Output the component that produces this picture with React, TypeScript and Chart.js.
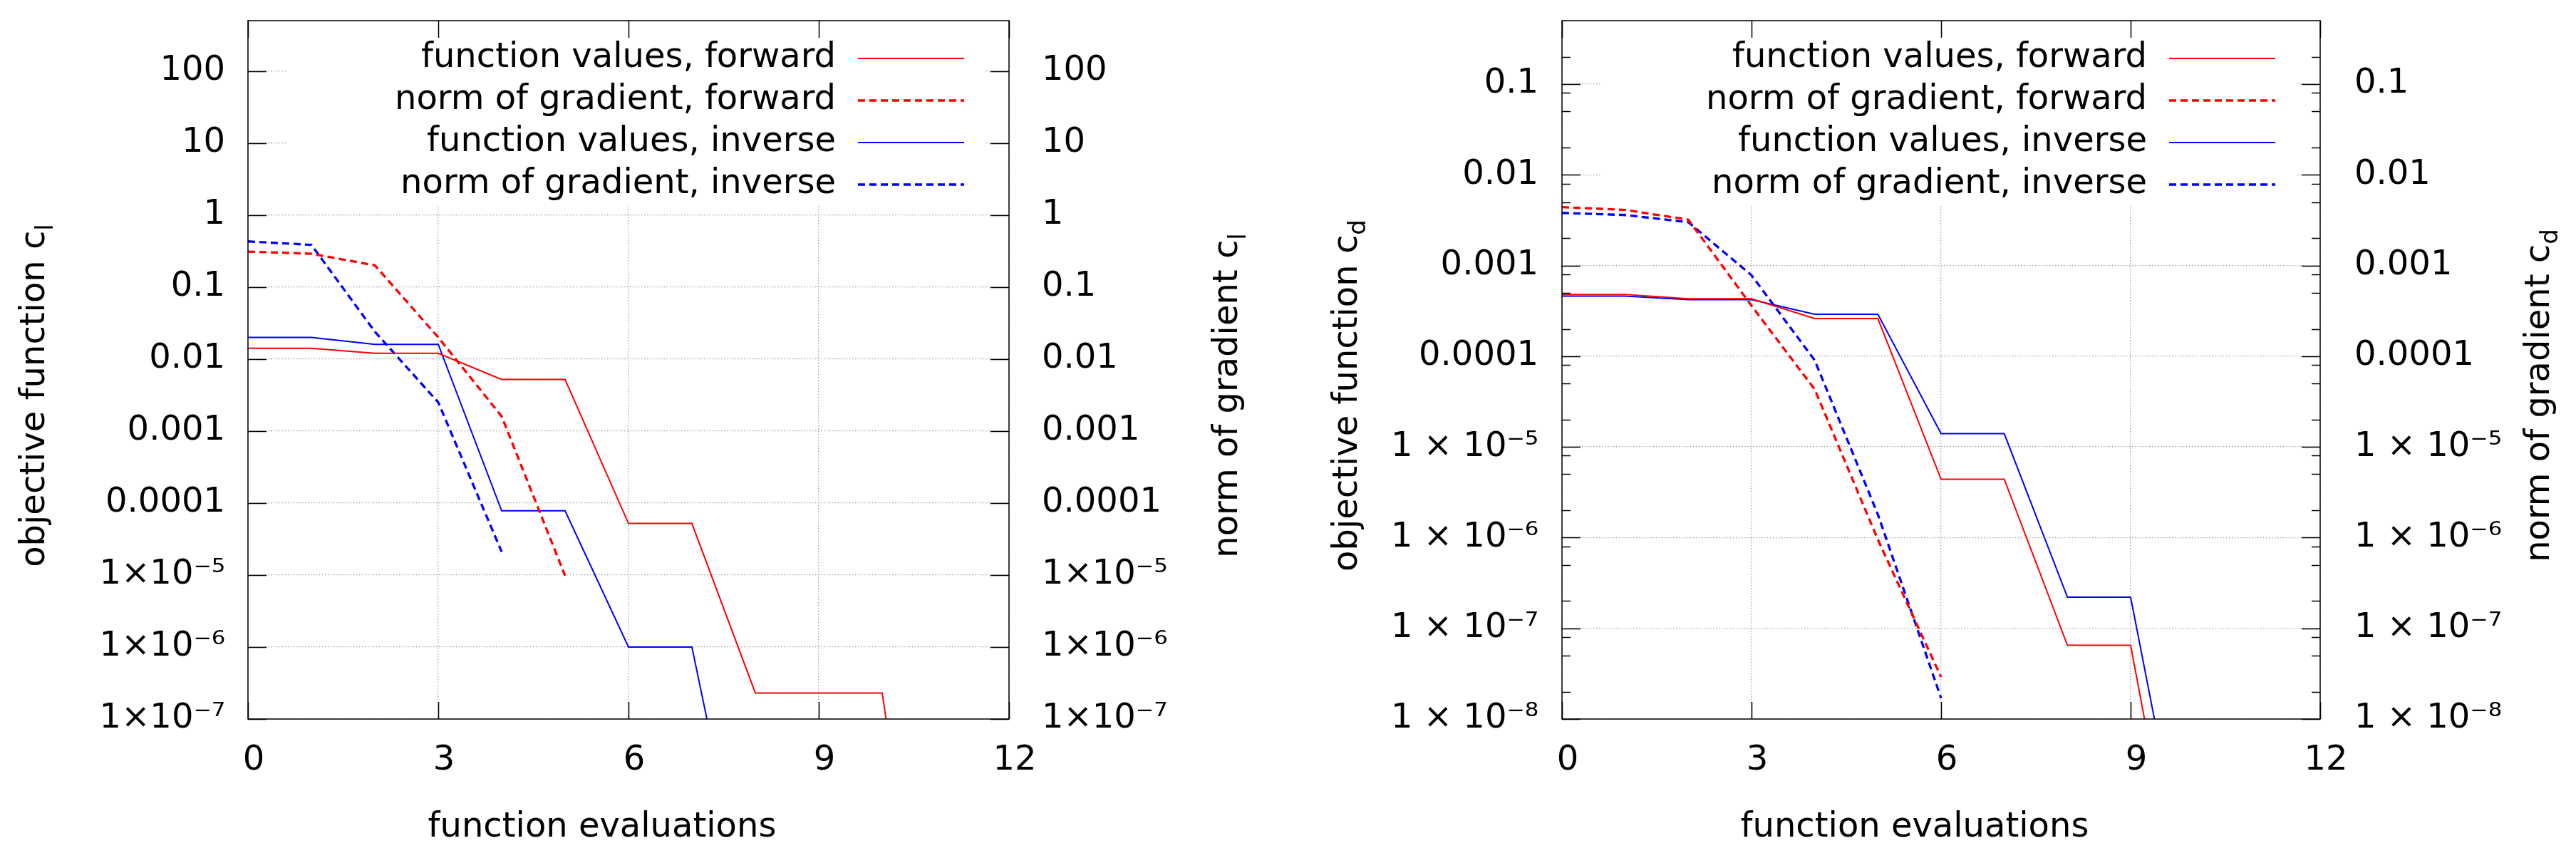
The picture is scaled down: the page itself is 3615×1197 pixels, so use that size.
import { useEffect, useRef } from "react";
import { Chart, registerables } from "chart.js";

Chart.register(...registerables);

const FONT = "'DejaVu Sans', sans-serif";
const HEIGHT = 1197;
const GRID = "#a0a0a0";

// function evaluations on the x axis
const evaluations = [0, 1, 2, 3, 4, 5, 6, 7, 8, 9, 10, 11];
const xTicks = [0, 3, 6, 9, 12];

const legendLabels = [
  "function values, forward",
  "norm of gradient, forward",
  "function values, inverse",
  "norm of gradient, inverse",
];

// left panel: c_l
const clValuesForward = [0.0141, 0.0141, 0.012, 0.012, 0.0052, 0.0052, 5.2e-5, 5.2e-5, 2.3e-7, 2.3e-7, 2.3e-7, 3e-13];
const clGradientForward = [0.31, 0.29, 0.2, 0.02, 0.0016, 9.8e-6];
const clValuesInverse = [0.0199, 0.0199, 0.016, 0.016, 7.8e-5, 7.8e-5, 1e-6, 1e-6, 6e-11];
const clGradientInverse = [0.43, 0.385, 0.024, 0.0025, 2.1e-5];
const clTickValues = [1e-7, 1e-6, 1e-5, 1e-4, 1e-3, 0.01, 0.1, 1, 10, 100];
const clTickLabels = ["1×10⁻⁷", "1×10⁻⁶", "1×10⁻⁵", "0.0001", "0.001", "0.01", "0.1", "1", "10", "100"];
const clMinorFactors: number[] = [];

// right panel: c_d
const cdValuesForward = [4.8e-4, 4.8e-4, 4.3e-4, 4.3e-4, 2.6e-4, 2.6e-4, 4.4e-6, 4.4e-6, 6.5e-8, 6.5e-8, 1.3e-11];
const cdGradientForward = [0.0044, 0.0041, 0.0032, 3.6e-4, 4.3e-5, 9.5e-7, 2.9e-8];
const cdValuesInverse = [4.6e-4, 4.6e-4, 4.2e-4, 4.2e-4, 2.9e-4, 2.9e-4, 1.4e-5, 1.4e-5, 2.2e-7, 2.2e-7, 6e-11];
const cdGradientInverse = [0.0038, 0.0036, 0.003, 7.8e-4, 9e-5, 1.8e-6, 1.7e-8];
const cdTickValues = [1e-8, 1e-7, 1e-6, 1e-5, 1e-4, 1e-3, 0.01, 0.1];
const cdTickLabels = ["1 × 10⁻⁸", "1 × 10⁻⁷", "1 × 10⁻⁶", "1 × 10⁻⁵", "0.0001", "0.001", "0.01", "0.1"];
const cdMinorFactors = [2, 5, 8];

type Panel = {
  sub: string;
  yMin: number;
  yMax: number;
  tickValues: number[];
  tickLabels: string[];
  minorFactors: number[];
  series: number[][];
  width: number;
  leftW: number;
  rightW: number;
  leftPad: number;
  rightPad: number;
  leftTitleX: number;
  rightTitleX: number;
};

const clPanel: Panel = {
  sub: "l",
  yMin: 1e-7,
  yMax: 500,
  tickValues: clTickValues,
  tickLabels: clTickLabels,
  minorFactors: clMinorFactors,
  series: [clValuesForward, clGradientForward, clValuesInverse, clGradientInverse],
  width: 1790,
  leftW: 348,
  rightW: 374,
  leftPad: 32,
  rightPad: 46,
  leftTitleX: 62,
  rightTitleX: 1736,
};

const cdPanel: Panel = {
  sub: "d",
  yMin: 1e-8,
  yMax: 0.5,
  tickValues: cdTickValues,
  tickLabels: cdTickLabels,
  minorFactors: cdMinorFactors,
  series: [cdValuesForward, cdGradientForward, cdValuesInverse, cdGradientInverse],
  width: 1825,
  leftW: 402,
  rightW: 359,
  leftPad: 33,
  rightPad: 48,
  leftTitleX: 114,
  rightTitleX: 1787,
};

const lineStyles = [
  { color: "#ff0000", width: 2, dash: [] as number[], axis: "y" },
  { color: "#ff0000", width: 3.3, dash: [10, 6], axis: "y2" },
  { color: "#0000ff", width: 2, dash: [] as number[], axis: "y" },
  { color: "#0000ff", width: 3.3, dash: [10, 6], axis: "y2" },
];

const toPoints = (values: number[]) => values.map((y, i) => ({ x: evaluations[i], y }));

function drawVertical(ctx: CanvasRenderingContext2D, text: string, sub: string, bx: number, cy: number) {
  ctx.save();
  ctx.translate(bx, cy);
  ctx.rotate(-Math.PI / 2);
  ctx.font = `48px ${FONT}`;
  const w1 = ctx.measureText(text).width;
  ctx.font = `34px ${FONT}`;
  const w2 = ctx.measureText(sub).width;
  const x0 = -(w1 + w2) / 2;
  ctx.textAlign = "left";
  ctx.textBaseline = "alphabetic";
  ctx.fillStyle = "#000";
  ctx.font = `48px ${FONT}`;
  ctx.fillText(text, x0, 0);
  ctx.font = `34px ${FONT}`;
  ctx.fillText(sub, x0 + w1, 12);
  ctx.restore();
}

function framePlugin(panel: Panel) {
  return {
    id: "gnuplotFrame",
    beforeDatasetsDraw(chart: any) {
      const { ctx, chartArea: a } = chart;
      // opaque key box hides the grid behind the legend
      ctx.save();
      ctx.fillStyle = "#ffffff";
      ctx.fillRect(a.left + 56, a.top + 1, a.right - a.left - 90, 259);
      ctx.restore();
    },
    afterDraw(chart: any) {
      const { ctx, chartArea: a } = chart;
      const xs = chart.scales.x;
      const ys = chart.scales.y;
      ctx.save();

      // legend
      ctx.font = `48px ${FONT}`;
      ctx.textAlign = "right";
      ctx.textBaseline = "middle";
      ctx.fillStyle = "#000";
      chart.data.datasets.forEach((ds: any, i: number) => {
        const y = a.top + 53 + i * 59;
        ctx.fillText(ds.label, a.right - 243, y);
        ctx.strokeStyle = ds.borderColor;
        ctx.lineWidth = ds.borderWidth;
        ctx.setLineDash(ds.borderDash || []);
        ctx.beginPath();
        ctx.moveTo(a.right - 212, y);
        ctx.lineTo(a.right - 63, y);
        ctx.stroke();
      });
      ctx.setLineDash([]);

      // inward tick marks on all four sides
      ctx.strokeStyle = "#000";
      ctx.lineWidth = 1.5;
      ctx.beginPath();
      xTicks.forEach((v) => {
        const px = Math.round(xs.getPixelForValue(v)) + 0.5;
        ctx.moveTo(px, a.bottom);
        ctx.lineTo(px, a.bottom - 24);
        ctx.moveTo(px, a.top);
        ctx.lineTo(px, a.top + 24);
      });
      panel.tickValues.forEach((v) => {
        const py = Math.round(ys.getPixelForValue(v)) + 0.5;
        ctx.moveTo(a.left, py);
        ctx.lineTo(a.left + 26, py);
        ctx.moveTo(a.right, py);
        ctx.lineTo(a.right - 26, py);
        panel.minorFactors.forEach((f) => {
          const m = v * f;
          if (m >= panel.yMax) return;
          const pm = Math.round(ys.getPixelForValue(m)) + 0.5;
          ctx.moveTo(a.left, pm);
          ctx.lineTo(a.left + 12, pm);
          ctx.moveTo(a.right, pm);
          ctx.lineTo(a.right - 12, pm);
        });
      });
      ctx.stroke();
      ctx.strokeRect(a.left, a.top, a.right - a.left, a.bottom - a.top);

      // axis titles
      ctx.font = `48px ${FONT}`;
      ctx.textAlign = "center";
      ctx.textBaseline = "alphabetic";
      ctx.fillText("function evaluations", (a.left + a.right) / 2 - 37, 1174);
      drawVertical(ctx, "objective function c", panel.sub, panel.leftTitleX, 555);
      drawVertical(ctx, "norm of gradient c", panel.sub, panel.rightTitleX, 555);

      ctx.restore();
    },
  };
}

function buildConfig(panel: Panel): any {
  const tickFont = { family: FONT, size: 48 };
  const yAxis = (position: "left" | "right", width: number, padding: number, grid: boolean) => ({
    type: "logarithmic",
    position,
    min: panel.yMin,
    max: panel.yMax,
    afterBuildTicks: (s: any) => {
      s.ticks = panel.tickValues.map((value) => ({ value }));
    },
    afterFit: (s: any) => {
      s.width = width;
      s.paddingTop = 0;
      s.paddingBottom = 0;
    },
    ticks: {
      callback: (_v: any, i: number) => panel.tickLabels[i],
      font: tickFont,
      color: "#000",
      padding,
      autoSkip: false,
    },
    grid: { display: grid, color: GRID, lineWidth: 1.3, drawTicks: false },
    border: { display: false, dash: [1.5, 2.5] },
  });

  return {
    type: "line",
    data: {
      datasets: panel.series.map((values, i) => ({
        label: legendLabels[i],
        data: toPoints(values),
        borderColor: lineStyles[i].color,
        borderWidth: lineStyles[i].width,
        borderDash: lineStyles[i].dash,
        yAxisID: lineStyles[i].axis,
        pointRadius: 0,
        tension: 0,
        fill: false,
      })),
    },
    options: {
      animation: false,
      responsive: false,
      devicePixelRatio: 1,
      layout: { padding: { top: 29, left: 0, right: 0, bottom: 0 }, autoPadding: false },
      plugins: { legend: { display: false }, tooltip: { enabled: false } },
      scales: {
        x: {
          type: "linear",
          min: 0,
          max: 12,
          afterBuildTicks: (s: any) => {
            s.ticks = xTicks.map((value) => ({ value }));
          },
          afterFit: (s: any) => {
            s.height = 188;
            s.paddingLeft = 0;
            s.paddingRight = 0;
          },
          ticks: { font: tickFont, color: "#000", padding: 30, labelOffset: 8, maxRotation: 0, autoSkip: false },
          grid: { color: GRID, lineWidth: 1.3, drawTicks: false },
          border: { display: false, dash: [1.5, 2.5] },
        },
        y: yAxis("left", panel.leftW, panel.leftPad, true),
        y2: yAxis("right", panel.rightW, panel.rightPad, false),
      },
    },
    plugins: [framePlugin(panel)],
  };
}

function PanelChart({ panel }: { panel: Panel }) {
  const canvasRef = useRef<HTMLCanvasElement>(null);
  useEffect(() => {
    if (!canvasRef.current) return;
    const chart = new Chart(canvasRef.current, buildConfig(panel));
    return () => {
      chart.destroy();
    };
  }, [panel]);
  return (
    <canvas
      ref={canvasRef}
      width={panel.width}
      height={HEIGHT}
      style={{ display: "block", width: panel.width, height: HEIGHT }}
    />
  );
}

export default function App() {
  return (
    <div
      style={{
        position: "absolute",
        left: 0,
        top: 0,
        width: 3615,
        height: HEIGHT,
        display: "flex",
        background: "#ffffff",
      }}
    >
      <PanelChart panel={clPanel} />
      <PanelChart panel={cdPanel} />
    </div>
  );
}
